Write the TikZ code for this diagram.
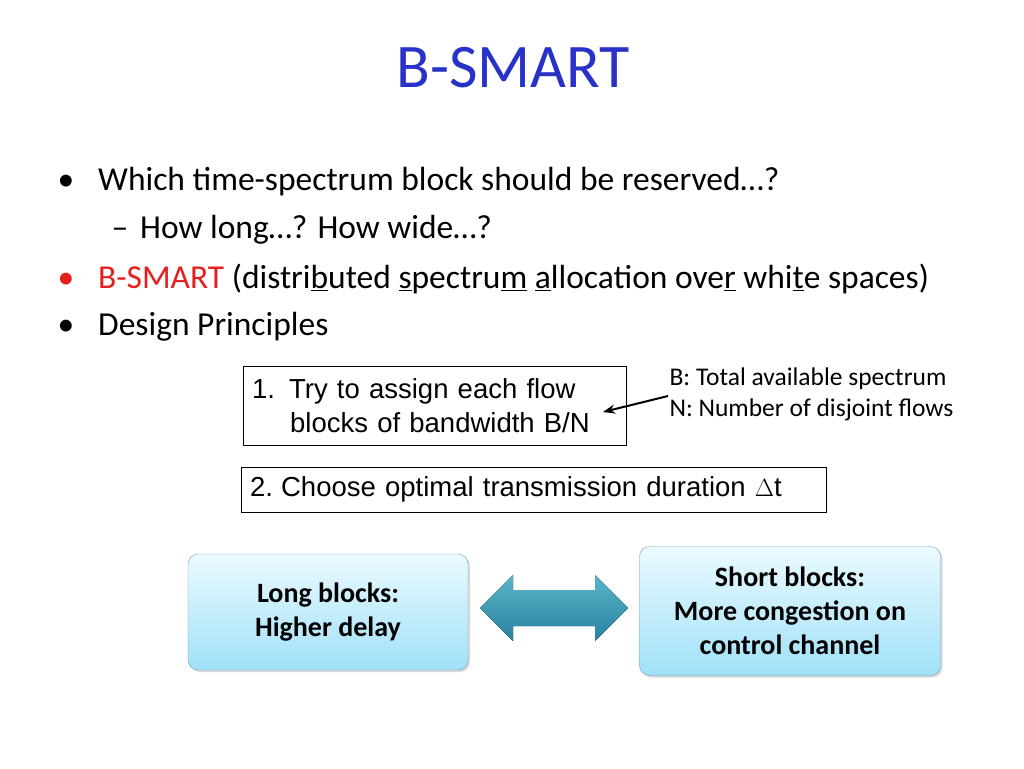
\documentclass[tikz,border=0pt]{standalone}
\usepackage{fontspec}
\setmainfont{Carlito}
\newfontfamily\arialfont{Liberation Sans}
\usetikzlibrary{arrows.meta,shadows}
\definecolor{titleblue}{RGB}{40,50,200}
\definecolor{redtext}{RGB}{230,30,30}
\definecolor{boxtop}{RGB}{235,250,255}
\definecolor{boxbot}{RGB}{160,225,248}
\definecolor{boxline}{RGB}{120,160,190}
\definecolor{arrowtop}{RGB}{90,180,200}
\definecolor{arrowbot}{RGB}{40,130,160}
\tikzset{
  bullettext/.style={anchor=west,font=\fontsize{33.5}{36}\selectfont},
  principle/.style={draw,thin,anchor=north west,font=\arialfont\fontsize{27.5}{34}\selectfont,
    align=left,inner xsep=9pt},
  tradeoff/.style={draw=boxline,rounded corners=10pt,top color=boxtop,bottom color=boxbot,
    drop shadow={opacity=0.3,shadow xshift=2pt,shadow yshift=-2pt},
    font=\bfseries\fontsize{28}{34}\selectfont,align=center},
  note/.style={anchor=west,font=\fontsize{25.5}{28}\selectfont}
}
\begin{document}
\begin{tikzpicture}[x=1pt,y=-1pt]
  \useasboundingbox (0,0) rectangle (1024,768);
  % title
  \node (title) [text=titleblue,font=\fontsize{62}{66}\selectfont] at (513,68) {B-SMART};
  % bullets
  \node (b1) [bullettext] at (54,182) {\textbullet\hspace{24pt}Which time-spectrum block should be reserved…?};
  \node (b2) [bullettext] at (108,230) {–\hspace{12pt}How long…? How wide…?};
  \node (b3) [bullettext] at (54,279) {{\color{redtext}\textbullet\hspace{24pt}B-SMART} (distri\underline{b}uted \underline{s}pectru\underline{m} \underline{a}llocation ove\underline{r} whi\underline{t}e spaces)};
  \node (b4) [bullettext] at (54,327) {\textbullet\hspace{24pt}Design Principles};
  % principles
  \node (p1) [principle,text width=365pt,minimum height=79pt] at (243,366) {1.\hspace{14pt}Try to assign each flow\\\hspace{38pt}blocks of bandwidth B/N};
  \node (p2) [principle,text width=567pt,minimum height=45pt] at (241,467) {2.\hspace{8pt}Choose optimal transmission duration $\Delta$t};
  \node (n1) [note] at (666,379) {B: Total available spectrum};
  \node (n2) [note] at (666,410) {N: Number of disjoint flows};
  \draw[-{Stealth[length=12pt]},line width=2pt] (n2.west) ++(2,-14) coordinate (s) -- (603,412);
  % trade-off boxes
  \node (long) [tradeoff,minimum width=280pt,minimum height=116pt] at (328,612) {Long blocks:\\Higher delay};
  \node (short) [tradeoff,minimum width=301pt,minimum height=129pt] at (790,611) {Short blocks:\\More congestion on\\control channel};
  \fill[top color=arrowtop,bottom color=arrowbot]
    (480,608) -- (513,575) -- (513,590) -- (595,590) -- (595,575) -- (628,608)
    -- (595,641) -- (595,626) -- (513,626) -- (513,641) -- cycle;
\end{tikzpicture}
\end{document}
